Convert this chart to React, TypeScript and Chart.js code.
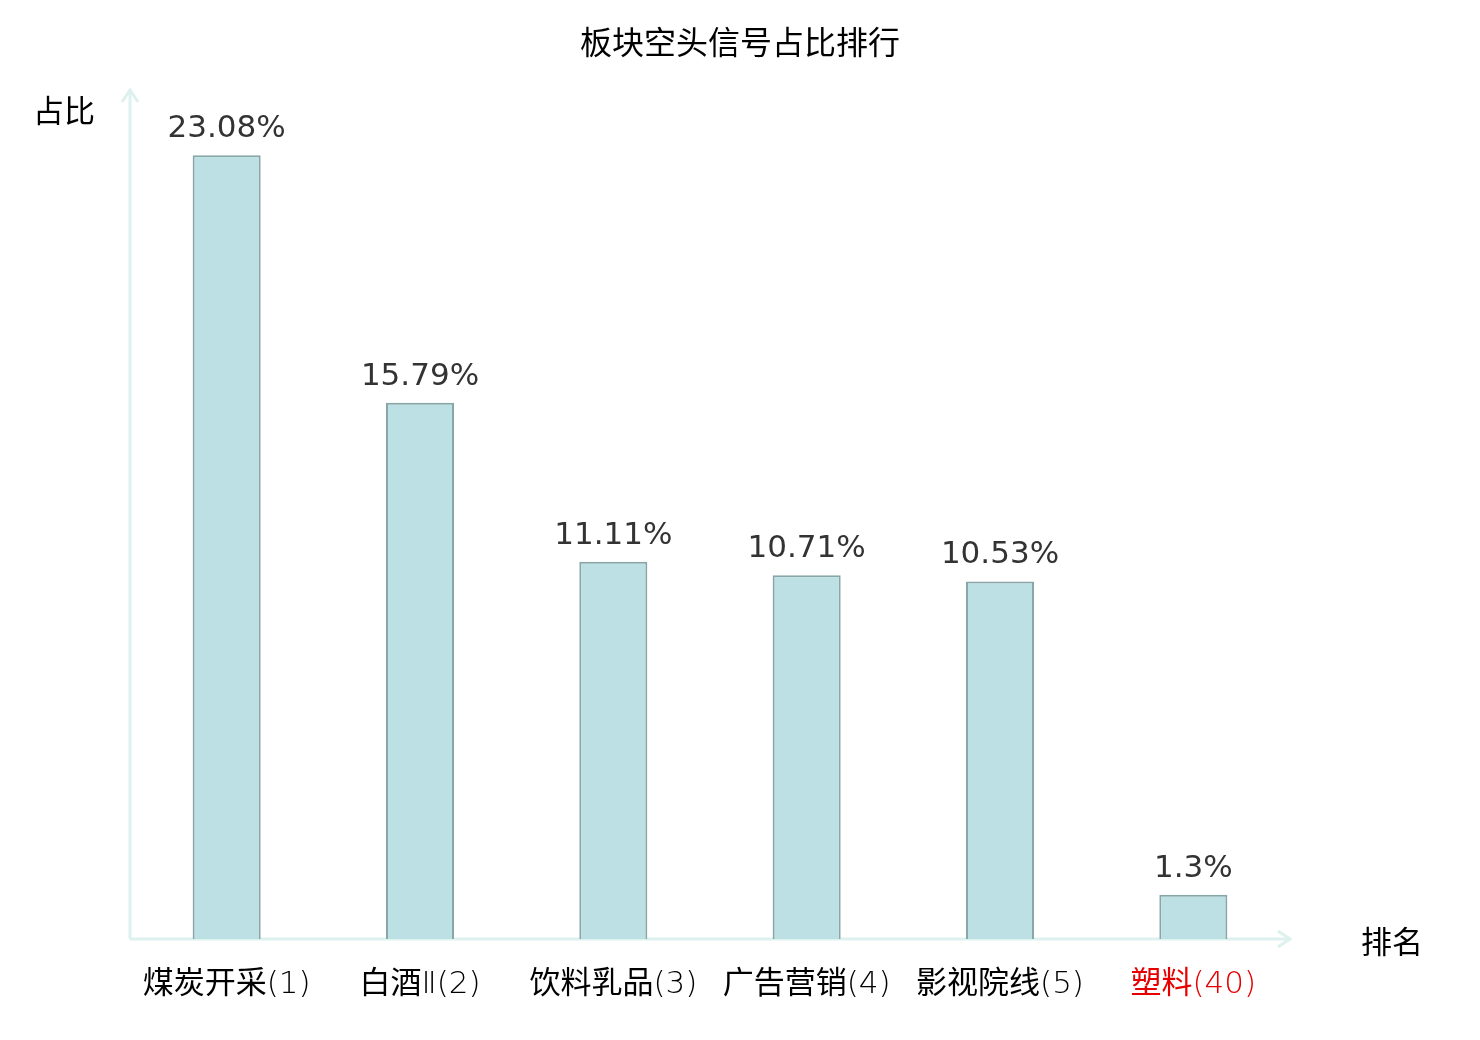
import { useEffect, useRef } from "react";
import { Chart, ChartConfiguration, Plugin, registerables } from "chart.js";

Chart.register(...registerables);

const categories = ["煤炭开采(1)", "白酒Ⅱ(2)", "饮料乳品(3)", "广告营销(4)", "影视院线(5)", "塑料(40)"];
const shares = [23.08, 15.79, 11.11, 10.71, 10.53, 1.3];
const tickColors = ["#000000", "#000000", "#000000", "#000000", "#000000", "#e60000"];
const yMax = 25;

const AXIS_COLOR = "#ddf1ef";
const CJK_FONT = '"Noto Sans CJK SC", "DejaVu Sans", sans-serif';
const NUM_FONT = '"DejaVu Sans", "Noto Sans CJK SC", sans-serif';
const TICK_FONT = '"DejaVu Sans Light", "Noto Sans CJK SC", sans-serif';

const decorPlugin: Plugin<"bar"> = {
  id: "decor",
  beforeDatasetsDraw(chart) {
    const { ctx, chartArea } = chart;
    const { left, right, top, bottom } = chartArea;
    ctx.save();
    ctx.strokeStyle = AXIS_COLOR;
    ctx.lineWidth = 3;

    // y axis + arrow
    ctx.beginPath();
    ctx.moveTo(left, bottom);
    ctx.lineTo(left, top);
    ctx.stroke();
    ctx.beginPath();
    ctx.moveTo(left - 8, top + 12);
    ctx.lineTo(left, top);
    ctx.lineTo(left + 8, top + 12);
    ctx.stroke();

    // x axis + arrow
    ctx.beginPath();
    ctx.moveTo(left, bottom);
    ctx.lineTo(right, bottom);
    ctx.stroke();
    ctx.beginPath();
    ctx.moveTo(right - 12, bottom - 8);
    ctx.lineTo(right, bottom);
    ctx.lineTo(right - 12, bottom + 8);
    ctx.stroke();
    ctx.restore();
  },
  afterDatasetsDraw(chart) {
    const { ctx, chartArea, width } = chart;
    ctx.save();
    // title
    ctx.font = `32px ${CJK_FONT}`;
    ctx.fillStyle = "#000000";
    ctx.textAlign = "center";
    ctx.textBaseline = "middle";
    ctx.fillText("板块空头信号占比排行", width / 2, 42);

    // values above bars
    ctx.font = `31px ${NUM_FONT}`;
    ctx.fillStyle = "#333333";
    ctx.textBaseline = "alphabetic";
    chart.getDatasetMeta(0).data.forEach((bar, i) => {
      ctx.fillText(`${shares[i]}%`, bar.x, bar.y - 18);
    });

    // axis names
    ctx.font = `31px ${CJK_FONT}`;
    ctx.fillStyle = "#000000";
    ctx.textAlign = "left";
    ctx.textBaseline = "middle";
    ctx.fillText("占比", 33, 110);
    ctx.fillText("排名", chartArea.right + 71, chartArea.bottom + 2);
    ctx.restore();
  },
};

export default function App() {
  const canvasRef = useRef<HTMLCanvasElement>(null);
  const chartRef = useRef<Chart | null>(null);

  useEffect(() => {
    if (!canvasRef.current) return;
    if (chartRef.current) chartRef.current.destroy();

    const config: ChartConfiguration<"bar"> = {
      type: "bar",
      data: {
        labels: categories,
        datasets: [
          {
            label: "占比",
            data: shares,
            backgroundColor: "#bce0e3",
            borderColor: "#88a6a8",
            borderWidth: 2,
            barPercentage: 0.352,
            categoryPercentage: 1,
          },
        ],
      },
      options: {
        responsive: true,
        maintainAspectRatio: false,
        animation: false,
        devicePixelRatio: 1,
        layout: { padding: { left: 130, right: 190, top: 90, bottom: 0 } },
        plugins: {
          legend: { display: false },
          tooltip: { enabled: false },
          title: { display: false },
        },
        scales: {
          x: {
            grid: { display: false, drawTicks: false },
            border: { display: false },
            ticks: {
              color: tickColors,
              padding: 27,
              font: { family: TICK_FONT, size: 31 },
              maxRotation: 0,
              autoSkip: false,
            },
            afterFit: (scale) => {
              scale.height = 101;
            },
          },
          y: {
            display: false,
            min: 0,
            max: yMax,
          },
        },
      },
      plugins: [decorPlugin],
    };

    chartRef.current = new Chart(canvasRef.current, config);
    return () => {
      chartRef.current?.destroy();
    };
  }, []);

  return (
    <div style={{ position: "absolute", left: 0, top: 0, width: 1480, height: 1040, background: "#ffffff" }}>
      <canvas ref={canvasRef} />
    </div>
  );
}
